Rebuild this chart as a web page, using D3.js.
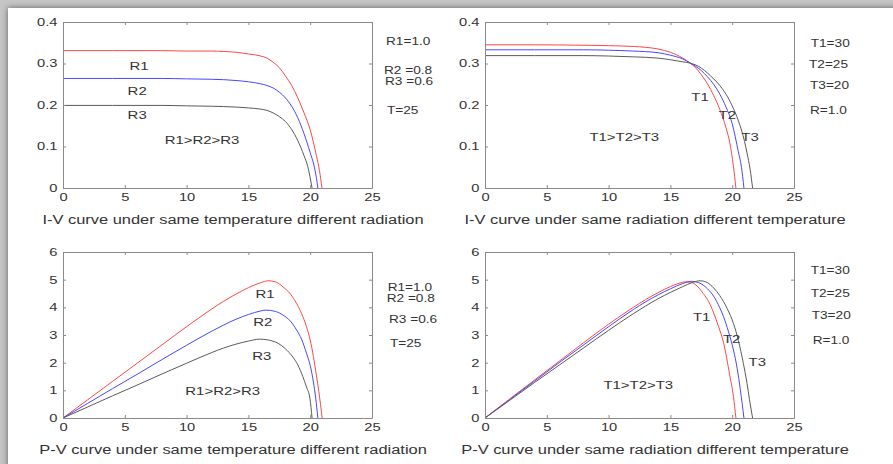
<!DOCTYPE html>
<html>
<head>
<meta charset="utf-8">
<script src="https://cdn.jsdelivr.net/npm/d3@7"></script>
<style>
  body { margin: 0; background: #c6c6c6; }
  text { font-family: "Liberation Sans", Arial, sans-serif; fill: #333; }
</style>
</head>
<body>
<svg id="chart"></svg>
<script>
// I-V curves, same temperature, different radiation  [V, I]
const ivR1 = [[0,.331],[4,.331],[8,.331],[10,.330],[12,.330],[13,.329],[14,.327],[15,.323],[16,.318],[16.5,.313],[17,.303],[17.5,.290],[18,.270],[18.5,.247],[19,.217],[19.5,.181],[20,.140],[20.5,.078],[20.75,.042],[20.95,0]];
const ivR2 = [[0,.264],[4,.264],[8,.264],[10,.263],[12,.262],[13,.261],[14,.259],[15,.256],[16,.251],[16.5,.247],[17,.241],[17.5,.231],[18,.217],[18.5,.197],[19,.169],[19.5,.131],[20,.085],[20.3,.055],[20.5,.025],[20.62,0]];
const ivR3 = [[0,.199],[4,.199],[8,.199],[10,.198],[12,.197],[14,.195],[15,.193],[16,.190],[16.5,.187],[17,.181],[17.5,.172],[18,.160],[18.5,.141],[19,.114],[19.5,.078],[19.8,.052],[20.15,0]];

// I-V curves, same radiation, different temperature
const ivT1 = [[0,.345],[4,.345],[8,.344],[10,.343],[12,.341],[13,.339],[14,.335],[15,.327],[16,.313],[16.6,.301],[17,.291],[17.5,.273],[18,.251],[18.5,.223],[19,.189],[19.5,.145],[19.8,.110],[20.1,.052],[20.3,0]];
const ivT2 = [[0,.333],[4,.333],[8,.333],[10,.332],[12,.330],[14,.326],[15,.320],[16,.311],[16.6,.301],[17,.294],[17.5,.283],[18,.268],[18.5,.250],[19,.226],[19.5,.195],[20,.155],[20.5,.087],[20.75,.050],[20.95,0]];
const ivT3 = [[0,.319],[4,.319],[8,.319],[10,.318],[12,.316],[14,.313],[15,.309],[16,.304],[16.6,.301],[17,.297],[17.5,.289],[18,.277],[18.5,.263],[19,.247],[19.5,.226],[20,.198],[20.5,.162],[21,.112],[21.2,.084],[21.45,.045],[21.65,0]];

// P-V curves, same temperature, different radiation  [V, P]
const pvR1 = [[0,0],[2,.66],[4,1.32],[6,1.98],[8,2.64],[10,3.30],[12,3.93],[13,4.22],[14,4.48],[15,4.71],[16,4.89],[16.6,4.96],[17.2,4.92],[17.8,4.74],[18.4,4.48],[18.9,4.14],[19.3,3.78],[19.7,3.30],[20,2.82],[20.26,2.22],[20.5,1.55],[20.7,.95],[20.97,0]];
const pvR2 = [[0,0],[2,.53],[4,1.06],[6,1.58],[8,2.11],[10,2.63],[12,3.13],[13,3.36],[14,3.57],[15,3.74],[16,3.87],[16.4,3.90],[17.2,3.85],[17.8,3.72],[18.4,3.50],[18.9,3.18],[19.3,2.85],[19.7,2.34],[20,1.90],[20.26,1.30],[20.45,.70],[20.62,0]];
const pvR3 = [[0,0],[2,.40],[4,.80],[6,1.19],[8,1.59],[10,1.98],[12,2.36],[13,2.53],[14,2.67],[15,2.78],[15.9,2.85],[16.6,2.82],[17.4,2.70],[18,2.50],[18.6,2.20],[19,1.92],[19.4,1.50],[19.7,1.12],[19.98,.70],[20.15,0]];

// P-V curves, same radiation, different temperature
const pvT1 = [[0,0],[2,.69],[4,1.37],[6,2.05],[8,2.73],[10,3.39],[12,4.00],[13,4.28],[14,4.53],[15,4.75],[15.7,4.87],[16.2,4.92],[16.6,4.91],[17,4.83],[17.66,4.50],[18.1,4.20],[18.5,3.80],[18.9,3.30],[19.3,2.72],[19.8,1.55],[20.1,.78],[20.3,0]];
const pvT2 = [[0,0],[2,.666],[4,1.33],[6,2.00],[8,2.65],[10,3.30],[12,3.92],[13,4.20],[14,4.45],[15,4.67],[16,4.86],[16.7,4.94],[17.3,4.89],[18,4.67],[18.5,4.40],[19,3.98],[19.3,3.66],[19.7,3.12],[20.1,2.46],[20.4,1.80],[20.66,1.02],[20.95,0]];
const pvT3 = [[0,0],[2,.64],[4,1.28],[6,1.91],[8,2.54],[10,3.17],[12,3.77],[13,4.05],[14,4.31],[15,4.54],[16,4.75],[16.8,4.90],[17.4,4.96],[18,4.89],[18.5,4.70],[19,4.42],[19.6,3.95],[20.1,3.42],[20.5,2.80],[20.9,1.98],[21.2,1.25],[21.4,.66],[21.65,0]];

const xTicks = [0, 5, 10, 15, 20, 25];
const iTicks = [0, 0.1, 0.2, 0.3, 0.4];
const pTicks = [0, 1, 2, 3, 4, 5, 6];

const radLegend = ["R1=1.0", "R2 =0.8", "R3 =0.6", "T=25"];
const tempLegend = ["T1=30", "T2=25", "T3=20", "R=1.0"];
const captions = [
  "I-V curve under same temperature different radiation",
  "I-V curve under same radiation different temperature",
  "P-V curve under same temperature different radiation",
  "P-V curve under same radiation different temperature"
];

const colors = ["#ff4747", "#4747ff", "#5a5a5a"];

const W = 893, H = 464;
const svg = d3.select("#chart").attr("width", W).attr("height", H);

// framed white sheet with soft shadow
const defs = svg.append("defs");
const f = defs.append("filter").attr("id", "shadow")
  .attr("x", "-5%").attr("y", "-5%").attr("width", "110%").attr("height", "110%");
f.append("feDropShadow").attr("dx", 0).attr("dy", 0)
  .attr("stdDeviation", 3).attr("flood-color", "#444").attr("flood-opacity", 0.8);
svg.append("rect").attr("width", W).attr("height", H).attr("fill", "#c6c6c6");
svg.append("rect").attr("x", 8).attr("y", 8).attr("width", W + 20).attr("height", H + 20)
  .attr("fill", "#fff").attr("filter", "url(#shadow)");

function putText(g, x, y, str, size, sx, anchor) {
  return g.append("text")
    .attr("transform", `translate(${x},${y}) scale(${sx},1)`)
    .attr("text-anchor", anchor || "start")
    .attr("dy", "0.35em")
    .style("font-size", size + "px")
    .text(str);
}

const fmtI = function (d) { return d === 0 ? "0" : d3.format(".1f")(d); };
const fmtP = d3.format("d");

const panels = [
  { left: 63, top: 22, yMax: 0.4, yTicks: iTicks, yFmt: fmtI,
    curves: [ivR1, ivR2, ivR3], legend: radLegend, caption: captions[0],
    legX: [386, 384, 385, 387], legY: [19.7, 48.5, 59.5, 88],
    notes: [["R1", 6.15, .295], ["R2", 6.0, .235], ["R3", 6.0, .175], ["R1>R2>R3", 11.25, .116]] },
  { left: 485, top: 22, yMax: 0.4, yTicks: iTicks, yFmt: fmtI,
    curves: [ivT1, ivT2, ivT3], legend: tempLegend, caption: captions[1],
    legX: [810.7, 809, 810, 810], legY: [21.3, 42, 63, 88],
    notes: [["T1", 17.4, .219], ["T2", 19.6, .177], ["T3", 21.44, .123], ["T1>T2>T3", 11.27, .123]] },
  { left: 63, top: 252, yMax: 6, yTicks: pTicks, yFmt: fmtP,
    curves: [pvR1, pvR2, pvR3], legend: radLegend, caption: captions[2],
    legX: [387.7, 386.7, 389, 390], legY: [35, 46.5, 67.3, 91.3],
    notes: [["R1", 16.34, 4.48], ["R2", 16.16, 3.46], ["R3", 16.08, 2.25], ["R1>R2>R3", 12.92, 0.96]] },
  { left: 485, top: 252, yMax: 6, yTicks: pTicks, yFmt: fmtP,
    curves: [pvT1, pvT2, pvT3], legend: tempLegend, caption: captions[3],
    legX: [810.7, 810.7, 811.7, 812.7], legY: [18.7, 41.3, 63.7, 88.7],
    notes: [["T1", 17.53, 3.64], ["T2", 19.96, 2.84], ["T3", 22.03, 2.02], ["T1>T2>T3", 12.4, 1.2]] }
];

const pw = 309, ph = 166;

panels.forEach(function (p) {
  const x = d3.scaleLinear().domain([0, 25]).range([p.left, p.left + pw]);
  const y = d3.scaleLinear().domain([0, p.yMax]).range([p.top + ph, p.top]);

  // curves
  const line = d3.line()
    .x(function (d) { return x(d[0]); })
    .y(function (d) { return y(d[1]); })
    .curve(d3.curveMonotoneX);
  p.curves.forEach(function (c, i) {
    svg.append("path")
      .datum(c)
      .attr("fill", "none")
      .attr("stroke", colors[i])
      .attr("stroke-width", 1)
      .attr("d", line);
  });

  // box with inward ticks on all sides
  const bottom = svg.append("g").attr("transform", `translate(0,${p.top + ph})`)
    .call(d3.axisBottom(x).tickValues(xTicks).tickSizeInner(-3).tickSizeOuter(0).tickPadding(6));
  bottom.selectAll("text").style("font-size", "10.5px").attr("transform", "scale(1.4,1)");
  svg.append("g").attr("transform", `translate(0,${p.top})`)
    .call(d3.axisTop(x).tickValues(xTicks).tickSizeInner(-3).tickSizeOuter(0).tickFormat(""));
  const leftAx = svg.append("g").attr("transform", `translate(${p.left},0)`)
    .call(d3.axisLeft(y).tickValues(p.yTicks).tickFormat(p.yFmt).tickSizeInner(-3).tickSizeOuter(0).tickPadding(4));
  leftAx.selectAll("text").style("font-size", "10.5px").attr("transform", "scale(1.4,1)");
  svg.append("g").attr("transform", `translate(${p.left + pw},0)`)
    .call(d3.axisRight(y).tickValues(p.yTicks).tickSizeInner(-3).tickSizeOuter(0).tickFormat(""));
  svg.selectAll(".domain, .tick line").attr("stroke", "#8a8a8a");
  svg.selectAll(".tick text").style("fill", "#333");

  // in-plot labels
  p.notes.forEach(function (n) {
    putText(svg, x(n[1]), y(n[2]), n[0], 11.5, 1.3, "middle");
  });

  // right-side parameter list
  p.legend.forEach(function (s, i) {
    putText(svg, p.legX[i], p.top + p.legY[i], s, 10.5, 1.3, "start");
  });

  // caption
  putText(svg, p.left + 170, p.top + ph + 32, p.caption, 12, 1.37, "middle");
});
</script>
</body>
</html>
